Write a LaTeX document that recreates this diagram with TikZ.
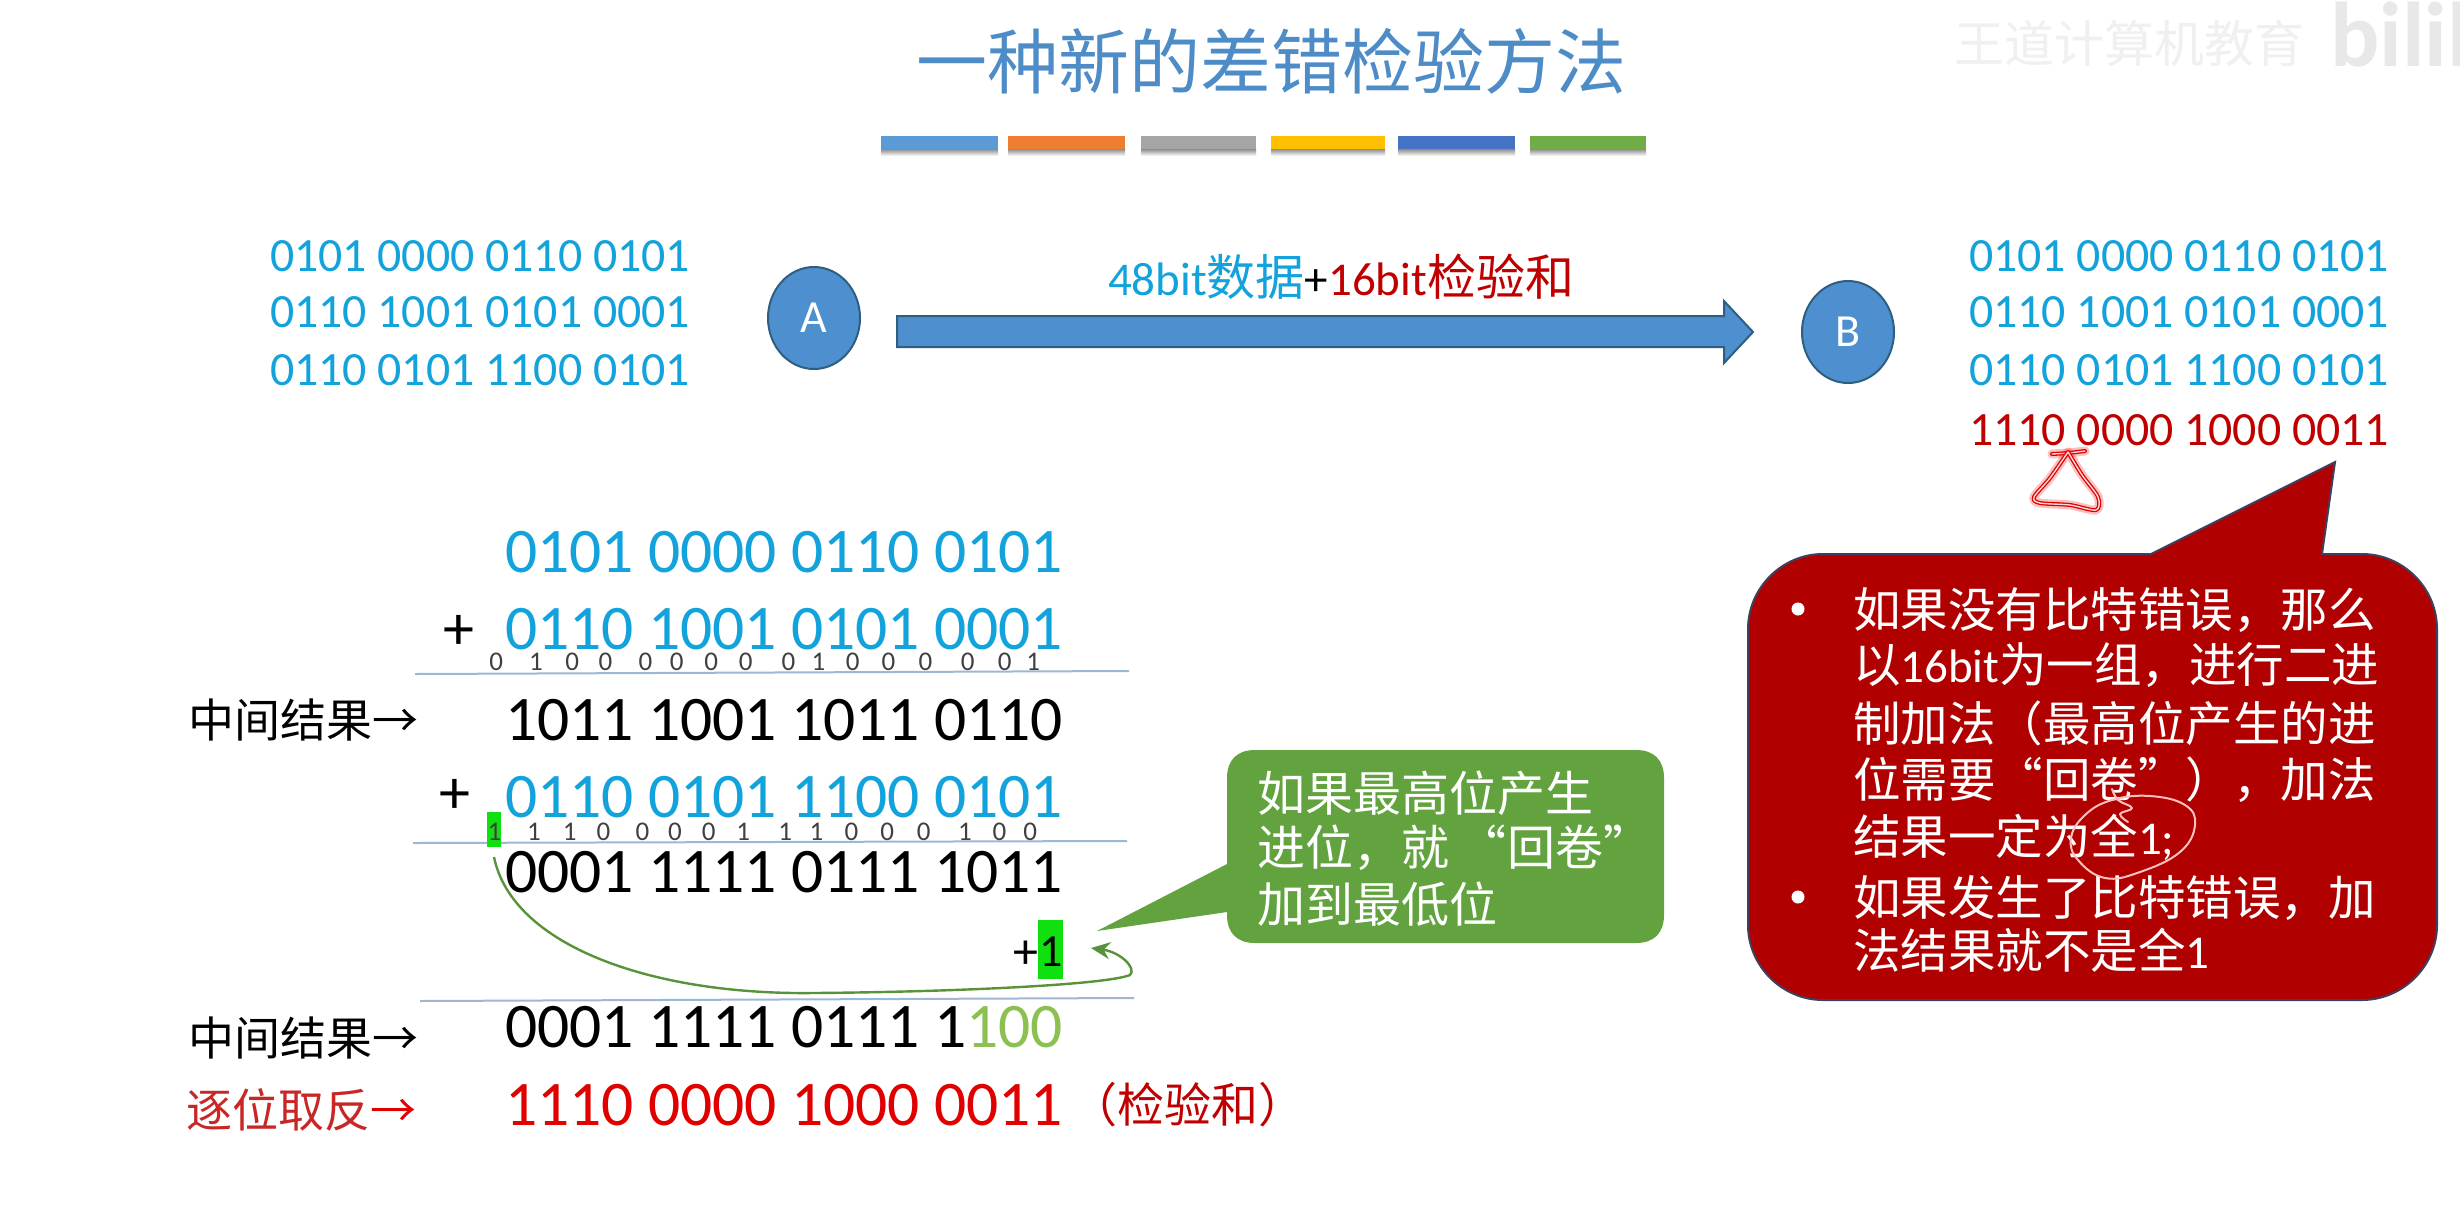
\documentclass[tikz,border=0pt]{standalone}
\usepackage{fontspec}
\setmainfont{Carlito}
\newfontfamily\zh{Noto Sans CJK SC}
\usetikzlibrary{arrows.meta,shapes.geometric}
\definecolor{titleblue}{HTML}{4E8CC8}
\definecolor{digitblue}{HTML}{12A3DC}
\definecolor{chkred}{HTML}{C00000}
\definecolor{brightred}{HTML}{E00000}
\definecolor{boxred}{HTML}{B00000}
\definecolor{boxedge}{HTML}{3F3F5F}
\definecolor{boxgreen}{HTML}{62A33F}
\definecolor{nodeblue}{HTML}{4E8FD0}
\definecolor{nodeedge}{HTML}{2E5F80}
\definecolor{rulecol}{HTML}{9DB8D5}
\definecolor{lightgreen}{HTML}{8CC152}
\definecolor{hl}{HTML}{10E010}
\newcommand{\fs}[1]{\fontsize{#1}{#1}\selectfont}
\newcommand{\lat}[1]{{\rmfamily\fs{47}#1}}
\newcommand{\glowline}[1]{%
  \draw[red,opacity=.25,line width=9pt,line cap=round,line join=round] #1;
  \draw[red!85!black,line width=4pt,line cap=round,line join=round] #1;
  \draw[white!85!red,line width=1.4pt,line cap=round,line join=round] #1;}
\tikzset{
  txt/.style={inner sep=0pt,outer sep=0pt,anchor=base west},
  smallrow/.style={txt,text=digitblue,font=\fs{47.8}},
  bigrow/.style={txt,font=\fs{63.5}},
  carry/.style={inner sep=0pt,outer sep=0pt,anchor=base,font=\fs{27},text=black!75},
  sumrule/.style={draw=rulecol,line width=2pt},
  host/.style={ellipse,draw=nodeedge,line width=2pt,fill=nodeblue,text=white,font=\fs{46},minimum width=92pt,minimum height=102pt,inner sep=0pt},
  redline/.style={txt,text=white,font=\fs{47.5}},
  greenline/.style={txt,text=white,font=\fs{48}},
  side/.style={txt,font=\fs{46}},
}
\begin{document}
\begin{tikzpicture}[x=1pt,y=-1pt]
\useasboundingbox (0,0) rectangle (2460,1224);
\fill[white] (0,0) rectangle (2460,1224);

% watermark
\node[txt,text=black!6,font=\fs{50}\zh] (wm) at (1954,62) {王道计算机教育};
\node[txt,text=black!9,font=\bfseries\fs{92}] (bili) at (2330,66) {bilibili};

% title and colour bars
\node[txt,text=titleblue,font=\fs{71}\zh] (title) at (916,88) {一种新的差错检验方法};
\foreach \a/\b/\c [count=\i] in {881/998/5B9BD5,1008/1125/ED7D31,1141/1256/A5A5A5,1271/1385/FFC000,1398/1515/4472C4,1530/1646/70AD47}{
  \shade[top color=black!45,bottom color=white] (\a,149) rectangle (\b,156);
  \definecolor{barc}{HTML}{\c}
  \fill[barc] (\a,136) rectangle (\b,149);
}

% sender data
\node[smallrow] (a1) at (270,271) {0101 0000 0110 0101};
\node[smallrow] (a2) at (270,327) {0110 1001 0101 0001};
\node[smallrow] (a3) at (270,385) {0110 0101 1100 0101};
\node[host] (A) at (814,318) {A};
\node[host] (B) at (1848,332) {B};
\fill[nodeblue,draw=nodeedge,line width=2pt] (897,316) -- (1724,316) -- (1724,301) -- (1753,332) -- (1724,363) -- (1724,347) -- (897,347) -- cycle;
\node[txt,font=\fs{47}] (lbl) at (1108,295) {\textcolor{digitblue}{48bit{\zh\fs{49}数据}}+\textcolor{chkred}{16bit{\zh\fs{49}检验和}}};

% receiver data
\node[smallrow] (b1) at (1969,271) {0101 0000 0110 0101};
\node[smallrow] (b2) at (1969,327) {0110 1001 0101 0001};
\node[smallrow] (b3) at (1969,385) {0110 0101 1100 0101};
\node[smallrow,text=chkred] (b4) at (1969,445) {1110 0000 1000 0011};

% sum
\node[bigrow,text=digitblue] (r1) at (505,572) {0101 0000 0110 0101};
\node[txt,font=\fs{62}] (p1) at (443,649) {+};
\node[bigrow,text=digitblue] (r2) at (505,649) {0110 1001 0101 0001};
\foreach \x/\d [count=\i] in {543/0,605/1,662/0,714/0,777/0,826/0,880/0,934/0,1001/0,1048/1,1102/0,1158/0,1216/0,1282/0,1340/0,1385/1}{
  \node[carry] (ca\i) at ({150+\x/1.568},670) {\d};
}
\coordinate (l1a) at (415,674); \coordinate (l1b) at (1129,671);
\draw[sumrule] (l1a) -- (l1b);
\node[side] (m1) at (188,737) {\zh 中间结果→};
\node[bigrow] (r3) at (505,740) {1011 1001 1011 0110};
\node[txt,font=\fs{62}] (p2) at (439,813) {+};
\node[bigrow,text=digitblue] (r4) at (505,817) {0110 0101 1100 0101};

\coordinate (l2a) at (413,843); \coordinate (l2b) at (1127,841);
\draw[sumrule] (l2a) -- (l2b);
\node[fill=hl,inner sep=0pt,minimum width=14pt,minimum height=35pt] (hlc) at (494,829.5) {};
\foreach \x/\d [count=\i] in {540/1,602/1,658/1,711/0,772/0,823/0,876/0,930/1,996/1,1045/1,1100/0,1156/0,1213/0,1278/1,1332/0,1380/0}{
  \node[carry] (cb\i) at ({150+\x/1.568},840) {\d};
}
\node[bigrow] (r5) at (505,892) {0001 1111 0111 1011};
\node[fill=hl,inner sep=0pt,minimum width=25pt,minimum height=59pt] (hlo) at (1050.5,949.5) {};
\node[txt,font=\fs{50}] (plus) at (1013,968) {+};
\node[txt,font=\fs{46}] (one) at (1039,966) {1};
\coordinate (cvA) at (494,857);
\coordinate (cvB) at (1091,948);
\draw[boxgreen!90!black,line width=2.4pt,-{Stealth[length=19pt,width=17pt]}] (cvA) .. controls (512,945) and (650,995) .. (813,993) .. controls (950,992) and (1105,985) .. (1130,975) .. controls (1137,968) and (1120,952) .. (cvB);
\coordinate (l3a) at (420,1001); \coordinate (l3b) at (1134,998);
\draw[sumrule] (l3a) -- (l3b);
\node[side] (m2) at (188,1055) {\zh 中间结果→};
\node[bigrow] (r6) at (505,1047) {0001 1111 0111 1\textcolor{lightgreen}{100}};
\node[side,text=chkred!85!white] (m3) at (186,1127) {\zh 逐位取反\textcolor{brightred}{→}};
\node[bigrow,text=brightred] (r7) at (505,1125) {1110 0000 1000 0011};
\node[txt,text=chkred,font=\fs{47}\zh] (chk) at (1070,1122) {（检验和）};

% green callout
\fill[boxgreen] (1227,864) -- (1097,931) -- (1227,912) -- (1227,915) .. controls (1227,933) and (1237,943) .. (1255,943) -- (1636,943) .. controls (1654,943) and (1664,933) .. (1664,915) -- (1664,778) .. controls (1664,760) and (1654,750) .. (1636,750) -- (1255,750) .. controls (1237,750) and (1227,760) .. (1227,778) -- cycle;
\node[greenline] (g1) at (1257,811) {\zh 如果最高位产生};
\node[greenline] (g2) at (1257,865) {\zh 进位，就\hspace{10pt}“回卷”};
\node[greenline] (g3) at (1257,922) {\zh 加到最低位};

% red callout
\path[fill=boxred,draw=boxedge,line width=2pt,line join=miter] (2322,554) -- (2362,554) .. controls (2403,554) and (2437,588) .. (2437,629) -- (2437,925) .. controls (2437,966) and (2403,1000) .. (2362,1000) -- (1823,1000) .. controls (1782,1000) and (1748,966) .. (1748,925) -- (1748,629) .. controls (1748,588) and (1782,554) .. (1823,554) -- (2151,554) -- (2335,462) -- cycle;
\fill[white] (1798,609) circle (6.5pt) (1798,897) circle (6.5pt);
\node[redline] (t1) at (1853,627) {\zh 如果没有比特错误，那么};
\node[redline] (t2) at (1853,682) {\zh 以\lat{16bit}为一组，进行二进};
\node[redline] (t3) at (1853,741) {\zh 制加法（最高位产生的进};
\node[redline] (t4) at (1853,797) {\zh 位需要“回卷”），加法};
\node[redline] (t5) at (1853,854) {\zh 结果一定为全\lat{1;}};
\node[redline] (t6) at (1853,915) {\zh 如果发生了比特错误，加};
\node[redline] (t7) at (1853,968) {\zh 法结果就不是全\lat{1}};

% handwritten marks
\glowline{plot[smooth,tension=.5] coordinates {(2052,454) (2068,453) (2085,451)}}
\glowline{plot[smooth,tension=.5] coordinates {(2068,452) (2050,478) (2034,497) (2040,503) (2070,505) (2096,510) (2098,497) (2082,475) (2068,452)}}
\draw[white!75!red,line width=2pt,line join=round,line cap=round] plot[smooth,tension=.7] coordinates {(2112,789) (2118,800) (2132,808) (2120,814) (2128,822)};
\draw[white!75!red,line width=2pt,line cap=round] plot[smooth cycle,tension=.7] coordinates {(2112,800) (2150,796) (2185,805) (2195,825) (2180,852) (2140,872) (2105,878) (2078,860) (2071,838) (2085,815)};
\end{tikzpicture}
\end{document}
